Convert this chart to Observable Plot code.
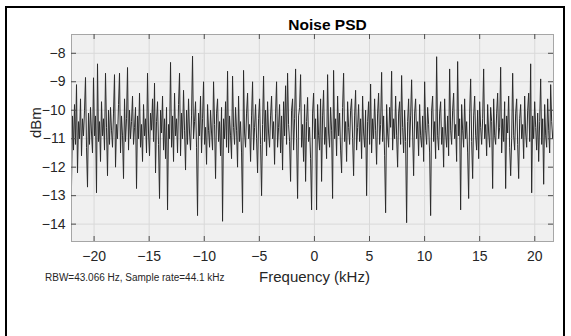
<!DOCTYPE html>
<html>
<head>
<meta charset="utf-8">
<script src="https://cdn.jsdelivr.net/npm/d3@7"></script>
<script src="https://cdn.jsdelivr.net/npm/@observablehq/plot@0.6"></script>
<style>
  html, body { margin: 0; padding: 0; background: #fff; }
  #wrap { position: relative; width: 571px; height: 336px; overflow: hidden; }
  #border { position: absolute; left: 5px; top: 6px; width: 560px; height: 340px; border: 2px solid #000; box-sizing: border-box; pointer-events: none; }
  svg { display: block; }
</style>
</head>
<body>
<div id="wrap"><div id="chart"></div><div id="border"></div></div>
<script>
const title = "Noise PSD";
const xLabel = "Frequency (kHz)";
const yLabel = "dBm";
const caption = "RBW=43.066 Hz, Sample rate=44.1 kHz";
const xTicks = [-20, -15, -10, -5, 0, 5, 10, 15, 20];
const yTicks = [-14, -13, -12, -11, -10, -9, -8];
const fStart = -22.05;   // kHz, first bin
const fStep = 0.0908;    // kHz between plotted bins
const psd = [
-12.7,-10.2,-11.4,-9.8,-11.2,-9.1,-12.2,-10.4,-11.0,-9.6,-11.6,-10.3,-10.9,-10.0,-8.85,-11.3,-12.7,-10.1,-11.2,-9.9,
-10.8,-11.5,-8.86,-10.9,-10.2,-12.9,-8.37,-11.1,-10.4,-11.8,-9.7,-10.9,-10.3,-11.4,-8.7,-10.6,-12.3,-10.0,-11.2,-9.9,
-10.7,-11.3,-10.1,-8.75,-12.0,-10.5,-11.0,-9.8,-8.7,-11.5,-10.2,-10.9,-12.4,-9.6,-11.1,-10.3,-8.5,-11.4,-10.0,-11.0,
-10.4,-9.5,-11.2,-10.6,-9.9,-12.75,-10.2,-11.0,-9.4,-11.3,-10.5,-11.8,-9.8,-10.9,-10.3,-11.5,-8.7,-10.8,-11.6,-10.1,
-10.7,-9.6,-11.1,-9.05,-12.2,-10.4,-9.7,-11.2,-13.1,-10.0,-10.8,-9.5,-11.4,-10.3,-11.7,-9.9,-13.5,-10.5,-11.0,-8.32,
-11.3,-10.2,-11.8,-9.4,-10.9,-10.3,-11.5,-9.8,-8.7,-11.6,-10.1,-11.0,-9.3,-10.7,-12.1,-10.0,-11.2,-9.6,-10.8,-11.4,
-10.2,-8.1,-11.0,-10.4,-9.7,-11.3,-13.7,-10.1,-10.9,-9.5,-11.5,-10.3,-9.0,-11.2,-10.6,-11.9,-9.8,-10.7,-11.3,-10.0,
-10.8,-11.4,-9.0,-10.5,-12.4,-10.1,-9.6,-11.1,-10.4,-11.6,-9.9,-13.9,-10.3,-11.0,-9.7,-11.3,-8.63,-11.5,-10.2,-10.9,
-11.7,-8.8,-10.6,-11.2,-9.9,-10.7,-12.0,-9.5,-11.1,-10.4,-11.5,-13.6,-8.6,-10.8,-11.3,-10.1,-9.4,-11.0,-10.5,-11.8,
-10.2,-9.0,-11.4,-10.6,-9.8,-11.0,-12.2,-10.3,-9.6,-11.2,-13.0,-10.5,-8.8,-11.1,-10.0,-11.6,-9.7,-10.8,-11.3,-10.2,
-9.5,-11.0,-10.4,-11.9,-10.1,-9.0,-11.3,-10.6,-9.8,-11.5,-10.2,-12.1,-9.7,-10.9,-9.14,-11.2,-8.7,-10.5,-11.1,-12.5,
-10.0,-9.6,-11.4,-10.3,-8.55,-11.0,-13.1,-10.2,-9.9,-8.75,-11.3,-10.5,-11.8,-9.8,-12.5,-10.4,-9.55,-11.1,-10.6,-11.7,
-13.5,-10.1,-9.4,-11.0,-10.3,-13.5,-9.8,-10.9,-11.4,-9.6,-12.5,-10.2,-9.3,-11.2,-10.6,-11.7,-8.75,-10.8,-11.3,-9.9,
-10.7,-13.1,-8.6,-11.0,-10.3,-11.6,-9.5,-10.9,-10.1,-11.4,-12.2,-9.9,-8.7,-11.1,-10.4,-11.8,-9.7,-10.6,-11.2,-10.0,
-9.6,-11.0,-12.3,-10.2,-9.3,-11.4,-10.6,-9.8,-11.1,-10.3,-11.7,-9.5,-10.8,-11.3,-10.0,-13.0,-10.4,-9.7,-11.2,-9.08,
-11.5,-10.3,-11.0,-9.6,-10.7,-11.9,-10.1,-9.4,-11.2,-10.5,-8.67,-11.1,-10.2,-11.6,-13.6,-9.8,-10.8,-11.3,-9.9,-10.6,
-8.63,-11.4,-10.3,-11.0,-9.5,-10.9,-12.0,-10.1,-9.7,-11.2,-8.78,-10.6,-11.5,-10.0,-11.1,-13.95,-10.4,-9.6,-11.3,-10.2,
-8.93,-10.8,-12.3,-10.1,-9.6,-11.0,-10.4,-11.6,-9.8,-10.9,-11.3,-10.2,-11.8,-9.0,-10.7,-11.2,-9.9,-10.5,-11.5,-13.7,
-10.0,-9.5,-11.1,-10.4,-11.7,-8.12,-10.9,-11.4,-10.1,-9.7,-11.2,-10.6,-12.0,-9.6,-10.8,-11.3,-10.2,-11.6,-8.55,-10.7,
-11.2,-10.0,-9.4,-11.0,-10.5,-11.8,-8.29,-10.9,-10.3,-13.5,-9.8,-10.7,-11.3,-9.6,-11.0,-10.4,-11.5,-13.1,-10.1,-8.9,
-11.1,-12.4,-10.2,-9.5,-10.9,-11.4,-10.0,-11.7,-9.7,-10.6,-11.2,-10.3,-8.55,-11.0,-10.5,-11.6,-9.8,-10.8,-11.3,-9.9,
-10.4,-12.75,-9.6,-10.9,-11.2,-10.1,-9.4,-11.0,-10.6,-8.49,-11.5,-10.3,-11.1,-9.7,-12.75,-10.2,-10.8,-9.5,-11.3,-12.3,
-11.0,-8.7,-10.9,-11.4,-10.1,-9.6,-11.2,-12.4,-10.3,-9.8,-11.0,-10.5,-11.7,-9.5,-10.8,-11.3,-10.0,-9.4,-11.1,-8.37,
-12.9,-10.2,-11.0,-9.7,-10.6,-11.4,-10.1,-11.8,-10.4,-8.9,-11.2,-10.3,-12.6,-9.8,-10.9,-11.3,-9.6,-10.7,-11.5,-9.1,
-10.4,-11.0,-10.6
];

const rows = psd.map((v, i) => ({f: fStart + i * fStep, p: v}));
const font = "'Liberation Sans', Arial, Helvetica, sans-serif";

const chart = Plot.plot({
  width: 571,
  height: 336,
  marginLeft: 71,
  marginRight: 18,
  marginTop: 34,
  marginBottom: 95,
  style: {fontFamily: font, fontSize: "14px", color: "#262626", background: "transparent", overflow: "visible"},
  x: {domain: [-22.05, 21.7], ticks: xTicks, tickSize: 0, tickPadding: 10, label: null},
  y: {domain: [-14.61, -7.34], ticks: yTicks, tickSize: 0, tickPadding: 6, label: null},
  marks: [
    Plot.frame({fill: "#f0f0f0", stroke: null}),
    Plot.ruleX(xTicks, {stroke: "#d9d9d9", strokeWidth: 1}),
    Plot.ruleY(yTicks, {stroke: "#d9d9d9", strokeWidth: 1}),
    Plot.line(rows, {x: "f", y: "p", stroke: "#2b2b2b", strokeWidth: 1, clip: true}),
    Plot.frame({stroke: "#a6a6a6", strokeWidth: 1}),
    Plot.tickX(xTicks, {x: d => d, insetTop: 202, stroke: "#4d4d4d"}),
    Plot.tickX(xTicks, {x: d => d, insetBottom: 202, stroke: "#4d4d4d"}),
    Plot.tickY(yTicks, {y: d => d, insetRight: 477, stroke: "#4d4d4d"}),
    Plot.tickY(yTicks, {y: d => d, insetLeft: 477, stroke: "#4d4d4d"}),
    Plot.text([title], {text: d => d, frameAnchor: "top", lineAnchor: "middle", dx: 15, dy: -9, fontSize: 15.5, fontWeight: "bold", fill: "#000"}),
    Plot.text([yLabel], {text: d => d, frameAnchor: "left", rotate: -90, dx: -35, fontSize: 15, fill: "#262626"}),
    Plot.text([xLabel], {text: d => d, frameAnchor: "bottom", lineAnchor: "middle", dx: 2, dy: 36, fontSize: 15, fill: "#262626"}),
    Plot.text([caption], {text: d => d, frameAnchor: "bottom-left", lineAnchor: "middle", textAnchor: "start", dx: -26.5, dy: 36, fontSize: 10, fill: "#262626"})
  ]
});
document.getElementById("chart").appendChild(chart);
</script>
</body>
</html>
